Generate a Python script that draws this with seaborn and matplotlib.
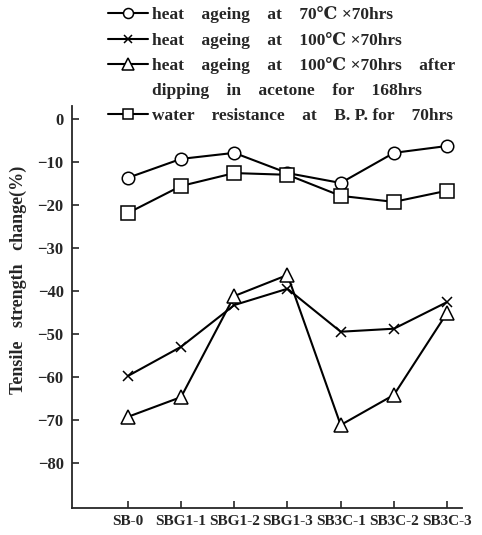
import matplotlib
matplotlib.use("Agg")
import matplotlib.pyplot as plt
from matplotlib.lines import Line2D
import seaborn as sns
import pandas as pd

categories = ['SB-0', 'SBG1-1', 'SBG1-2', 'SBG1-3', 'SB3C-1', 'SB3C-2', 'SB3C-3']
heat_70 = [-13.7, -9.3, -7.9, -12.6, -14.9, -7.9, -6.3]
heat_100 = [-59.8, -53.0, -43.3, -39.5, -49.5, -48.8, -42.6]
heat_100_acetone = [-69.3, -64.7, -41.2, -36.3, -71.2, -64.2, -45.1]
water_bp = [-21.9, -15.6, -12.6, -13.0, -17.9, -19.3, -16.7]

series_labels = [
    'heat    ageing    at    70\u2103 \u00d770hrs',
    'heat    ageing    at    100\u2103 \u00d770hrs',
    'heat    ageing    at    100\u2103 \u00d770hrs    after',
    'water    resistance    at    B. P. for    70hrs',
]
second_line = 'dipping    in    acetone    for    168hrs'
y_label = 'Tensile   strength   change(%)'
y_ticks = [0, -10, -20, -30, -40, -50, -60, -70, -80]

sns.set_style('ticks')
plt.rcParams['font.family'] = ['Liberation Serif', 'DejaVu Serif', 'DejaVu Sans']
plt.rcParams['font.weight'] = 'bold'
plt.rcParams['axes.labelweight'] = 'bold'
plt.rcParams['axes.unicode_minus'] = True

fig = plt.figure(figsize=(4.82, 5.35), dpi=100)
ax = fig.add_axes([72/482, 27/535, 390/482, 402/535])

series = [heat_70, heat_100, heat_100_acetone, water_bp]
markers = ['o', 'x', '^', 's']
msizes = [9, 6.5, 10, 9.5]
handles = []
for vals, mk, ms, lab in zip(series, markers, msizes, series_labels):
    df = pd.DataFrame({'sample': categories, 'value': vals})
    sns.lineplot(data=df, x='sample', y='value', ax=ax, color='black',
                 marker=mk, markersize=ms, markerfacecolor='white',
                 markeredgecolor='black', markeredgewidth=1.1,
                 linewidth=1.5, legend=False, sort=False)
    handles.append(Line2D([], [], color='black', marker=mk, markersize=ms*0.8,
                          markerfacecolor='white', markeredgecolor='black',
                          markeredgewidth=1.1, linewidth=1.5))

ax.set_xlim(-1.05, 6.28)
ax.set_ylim(-90.5, 3.0)
ax.set_yticks(y_ticks)
ax.set_xlabel('')
ax.set_ylabel(y_label, fontsize=13, va='center')
ax.yaxis.set_label_coords(-54/390, (508-280)/402)
ax.tick_params(axis='y', direction='in', length=5, width=1.2, pad=6, labelsize=12)
ax.tick_params(axis='x', direction='in', length=5, width=1.2, pad=5, labelsize=11)
for s in ['top', 'right']:
    ax.spines[s].set_visible(False)
for s in ['left', 'bottom']:
    ax.spines[s].set_linewidth(1.3)

blank = Line2D([], [], linestyle='none', marker=None)
leg_handles = [handles[0], handles[1], handles[2], blank, handles[3]]
leg_labels = [series_labels[0], series_labels[1], series_labels[2], second_line, series_labels[3]]
fig.legend(leg_handles, leg_labels, loc='upper left', bbox_to_anchor=(108/482, 1 - 6/535),
           frameon=False, fontsize=12.5, handlelength=2.3, handletextpad=0.25,
           labelspacing=0.5, borderpad=0, borderaxespad=0)

fig.savefig('out.png', dpi=100)
